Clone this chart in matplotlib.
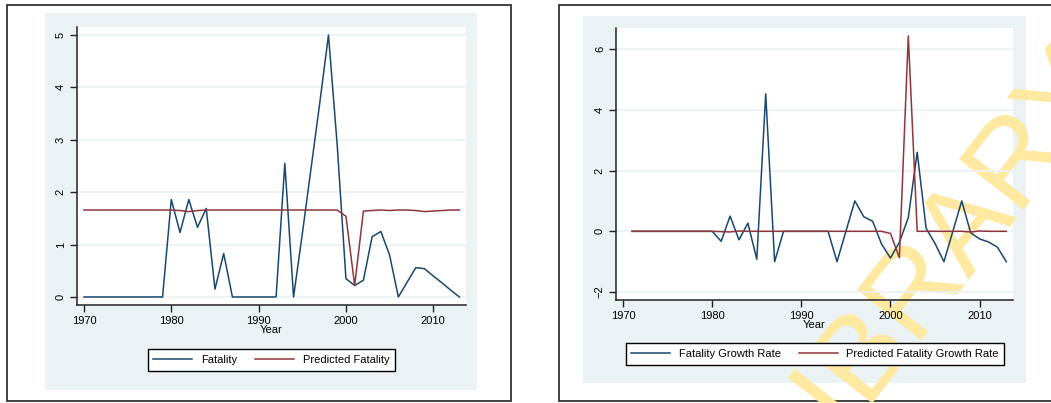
import matplotlib.pyplot as plt
from matplotlib.patches import Rectangle

plt.rcParams['font.family'] = ['Liberation Sans', 'DejaVu Sans']

years = list(range(1970, 2014))
fatality = [0, 0, 0, 0, 0, 0, 0, 0, 0, 0,
            1.86, 1.23, 1.86, 1.33, 1.69, 0.15, 0.83, 0, 0, 0,
            0, 0, 0, 2.55, 0, 1.2, 2.45, 3.7, 5.0, 2.9,
            0.35, 0.22, 0.32, 1.15, 1.25, 0.8, 0, 0.28, 0.56, 0.54,
            0.4, 0.27, 0.13, 0]
pred_fatality = [1.66, 1.66, 1.66, 1.66, 1.66, 1.66, 1.66, 1.66, 1.66, 1.66,
                 1.66, 1.65, 1.63, 1.65, 1.66, 1.66, 1.66, 1.66, 1.66, 1.66,
                 1.66, 1.66, 1.66, 1.66, 1.66, 1.66, 1.66, 1.66, 1.66, 1.66,
                 1.54, 0.22, 1.64, 1.65, 1.66, 1.65, 1.66, 1.66, 1.65, 1.63,
                 1.64, 1.65, 1.66, 1.66]

growth_years = list(range(1971, 2014))
growth = [0, 0, 0, 0, 0, 0, 0, 0, 0,
          0, -0.33, 0.5, -0.28, 0.27, -0.92, 4.52, -1.0, 0, 0,
          0, 0, 0, 0, -1.0, 0, 1.0, 0.48, 0.33, -0.42,
          -0.88, -0.36, 0.45, 2.6, 0.1, -0.4, -1.0, 0, 1.0, -0.05,
          -0.25, -0.35, -0.52, -1.0]
pred_growth = [0, 0, 0, 0, 0, 0, 0, 0, 0,
               0, -0.01, -0.02, 0.01, 0, 0, 0, 0, 0, 0,
               0, 0, 0, 0, 0, 0, 0, 0, 0, 0,
               -0.07, -0.87, 6.43, 0, 0, 0, 0, 0, 0, -0.02,
               0.01, 0, 0, 0]

navy = '#1A476F'
maroon = '#90353B'
region = '#EAF2F3'
W, H = 1051, 403
fs = 8

fig = plt.figure(figsize=(W / 100, H / 100), dpi=100)


def fbox(x0, y0, x1, y1, **kw):
    # rectangle given in pixel coords, measured from the top-left corner
    r = Rectangle((x0 / W, 1 - y1 / H), (x1 - x0) / W, (y1 - y0) / H,
                  transform=fig.transFigure, **kw)
    fig.patches.append(r)


# outer frames and the graph regions
fbox(7, 5, 511, 401, facecolor='white', edgecolor='#333333', lw=1.3, zorder=-3)
fbox(559, 5, 1060, 401, facecolor='white', edgecolor='#333333', lw=1.3, zorder=-3)
fbox(45, 13, 477, 390, facecolor=region, edgecolor='none', zorder=-2)
fbox(583, 16, 1026, 383, facecolor=region, edgecolor='none', zorder=-2)


def style(ax, yticks, ylim):
    ax.set_xlim(1969.2, 2013.75)
    ax.set_ylim(*ylim)
    ax.set_xticks([1970, 1980, 1990, 2000, 2010])
    ax.set_yticks(yticks)
    ax.yaxis.grid(True, color=region, lw=1.2)
    ax.set_axisbelow(True)
    for s in ['top', 'right']:
        ax.spines[s].set_visible(False)
    for s in ['left', 'bottom']:
        ax.spines[s].set_color('#222222')
        ax.spines[s].set_linewidth(1.1)
    ax.tick_params(length=5, width=1, color='#222222', labelsize=fs, pad=3)
    ax.tick_params(axis='y', labelrotation=90)
    for lbl in ax.get_yticklabels():
        lbl.set_va('center')
    ax.set_xlabel('Year', fontsize=fs, labelpad=-1)


def add_legend(ax, cx, cy):
    return ax.legend(loc='center', bbox_to_anchor=(cx / W, 1 - cy / H),
                     bbox_transform=fig.transFigure, ncol=2, fontsize=fs,
                     fancybox=False, edgecolor='black', framealpha=1,
                     handlelength=3.5, columnspacing=1.6, borderpad=0.5)


ax1 = fig.add_axes([77 / W, 1 - 305 / H, 389 / W, 278 / H])
ax1.plot(years, fatality, color=navy, lw=1.1, label='Fatality')
ax1.plot(years, pred_fatality, color=maroon, lw=1.1, label='Predicted Fatality')
style(ax1, [0, 1, 2, 3, 4, 5], (-0.153, 5.153))
add_legend(ax1, 271.5, 360)

ax2 = fig.add_axes([616 / W, 1 - 300 / H, 397 / W, 272 / H])
ax2.plot(growth_years, growth, color=navy, lw=1.1, label='Fatality Growth Rate')
ax2.plot(growth_years, pred_growth, color=maroon, lw=1.1,
         label='Predicted Fatality Growth Rate')
style(ax2, [-2, 0, 2, 4, 6], (-2.26, 6.69))
leg = add_legend(ax2, 815, 354)
leg.set_zorder(5)

# diagonal watermark, under the axis labels and the lines
ax2.text(935 / W, 1 - 262 / H, 'LIBRARY', transform=fig.transFigure,
         rotation=52, rotation_mode='anchor', ha='center', va='center',
         fontsize=86, color='#FFE9A0', zorder=0.4, clip_on=False)

fig.savefig('out.png', dpi=100)
